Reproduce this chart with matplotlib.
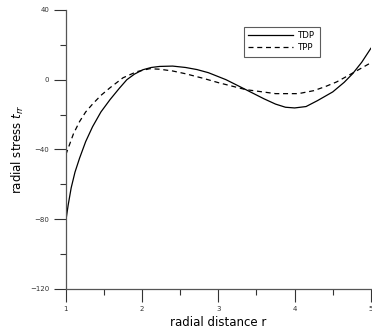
import matplotlib
matplotlib.use("Agg")
import matplotlib.pyplot as plt

r_tdp = [1.0, 1.03, 1.07, 1.12, 1.18, 1.26, 1.35, 1.46, 1.58, 1.7, 1.8, 1.9, 2.01, 2.12, 2.23, 2.4, 2.57, 2.72, 2.87, 3.1, 3.36, 3.6, 3.75, 3.88, 4.0, 4.15, 4.3, 4.5, 4.65, 4.76, 4.88, 5.0]
tdp = [-81, -72, -62, -53, -45, -35.5, -27, -18.5, -11.4, -5, 0, 3.2, 5.7, 7.0, 7.6, 7.8, 7, 5.8, 4, 0, -5.7, -11, -14, -15.8, -16.2, -15.4, -12, -7, -1.5, 3.4, 10, 18]
r_tpp = [1.0, 1.05, 1.1, 1.18, 1.26, 1.35, 1.46, 1.58, 1.75, 1.93, 2.1, 2.23, 2.4, 2.57, 2.8, 3.0, 3.36, 3.75, 4.05, 4.25, 4.4, 4.55, 4.7, 4.85, 5.0]
tpp = [-43, -37, -31, -24, -18.5, -14, -9, -4.6, 1.1, 4.6, 6.3, 6.0, 5.0, 3.4, 0.8, -1.7, -5.7, -8, -8, -6.3, -4, -1.3, 2.3, 6, 9.7]

fig = plt.figure(figsize=(3.72, 3.31), dpi=100)
ax = fig.add_axes([0.177, 0.127, 0.820, 0.843])
ax.plot(r_tdp, tdp, color='black', lw=0.9, label='TDP')
ax.plot(r_tpp, tpp, color='black', lw=0.9, ls=(0, (4, 3)), label='TPP')
ax.set_xlim(1, 5)
ax.set_ylim(-120, 40)
ax.set_xticks([1, 2, 3, 4, 5])
ax.set_xticks([1.5, 2.5, 3.5, 4.5], minor=True)
ax.set_yticks([-120, -80, -40, 0, 40])
ax.set_yticks([-100, -60, -20, 20], minor=True)
for s in ['top', 'right']:
    ax.spines[s].set_visible(False)
for s in ['left', 'bottom']:
    ax.spines[s].set_color('#555555')
    ax.spines[s].set_linewidth(0.9)
ax.tick_params(which='major', direction='out', length=9, width=0.8, labelsize=5, colors='#333333', pad=3)
ax.tick_params(which='minor', direction='out', length=4, width=0.8, colors='#333333')
ax.set_xlabel('radial distance r', fontsize=8.5, labelpad=3)
ax.set_ylabel('radial stress $t_{rr}$', fontsize=8.5, labelpad=3)
leg = ax.legend(loc='upper left', bbox_to_anchor=(0.584, 0.939), fontsize=6.2, frameon=True,
                fancybox=False, edgecolor='#333333', handlelength=5.2, borderpad=0.5,
                labelspacing=0.35, handletextpad=0.6, borderaxespad=0)
leg.get_frame().set_linewidth(0.8)
fig.savefig('out.png', dpi=100)
